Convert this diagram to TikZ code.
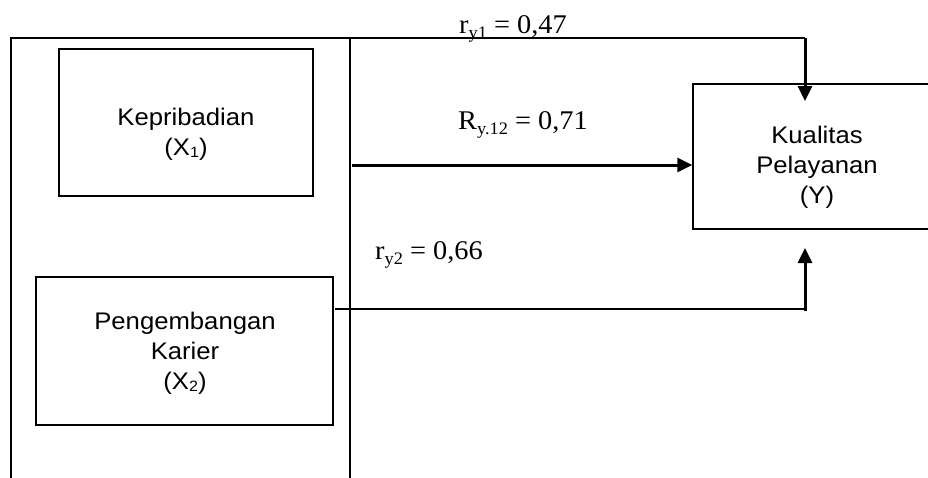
\documentclass[tikz,border=0pt]{standalone}
\usepackage{fontspec}
\setmainfont{Liberation Serif}
\newfontfamily\arialfont{Liberation Sans}
\usetikzlibrary{arrows.meta}

% widened text and subscripts in the two faces
\newcommand\wide[2]{\scalebox{#1}[1]{#2}}
\newcommand\asub[1]{\raisebox{-0.1em}{\fontsize{15}{15}\selectfont #1}}
\newcommand\tsub[1]{\raisebox{-0.22em}{\fontsize{17.5}{17.5}\selectfont #1}}
\newcommand\boxtext[1]{\wide{1.07}{\arialfont\fontsize{24}{30}\selectfont
  \setlength\tabcolsep{0pt}\begin{tabular}{c}#1\end{tabular}}}
\newcommand\coef[1]{\wide{1.05}{\fontsize{27}{30}\selectfont #1}}

\tikzset{
  varbox/.style={draw, line width=1.4pt, rectangle, inner sep=0pt},
  thinline/.style={line width=1.3pt},
  bold arrow/.style={line width=3pt, -{Triangle[length=15pt,width=14pt]}},
  bold line/.style={line width=3pt},
}

\begin{document}
\begin{tikzpicture}[x=1pt,y=-1pt]
\useasboundingbox (0,0) rectangle (928,477);
\clip (0,0) rectangle (928,477);

% open frame around both independent variables
\coordinate (fbl) at (11,480);
\coordinate (ftl) at (11,38);
\coordinate (ftr) at (350,38);
\coordinate (fbr) at (350,480);
\draw[thinline] (fbl) -- (ftl) -- (ftr) -- (fbr);

% variable boxes
\node[varbox, minimum width=254pt, minimum height=147pt] (x1) at (186,122.5) {};
\node[varbox, minimum width=297pt, minimum height=148pt] (x2) at (184.5,351) {};
\node[varbox, minimum width=247pt, minimum height=145pt] (y) at (816.5,156.5) {};

\node[inner sep=0pt] (x1t) at (186,134) {\boxtext{Kepribadian\\(X\asub{1})}};
\node[inner sep=0pt] (x2t) at (185,353) {\boxtext{Pengembangan\\Karier\\(X\asub{2})}};
\node[inner sep=0pt] (yt) at (817,167) {\boxtext{Kualitas\\Pelayanan\\(Y)}};

% coefficient labels
\node[anchor=base, inner sep=0pt] (l1) at (513,33) {\coef{r\tsub{y1} = 0,47}};
\node[anchor=base, inner sep=0pt] (l12) at (523,129) {\coef{R\tsub{y.12} = 0,71}};
\node[anchor=base, inner sep=0pt] (l2) at (429,259) {\coef{r\tsub{y2} = 0,66}};

% r_y1 path
\coordinate (c1) at (805,38);
\coordinate (ytip) at (805,101);
\draw[thinline] (ftr) -- (c1);
\draw[bold arrow] (c1) -- (ytip);

% joint path
\coordinate (rs) at (352,165);
\draw[bold arrow] (rs) -- (y.west |- rs);

% r_y2 path
\coordinate (c2s) at (335,309);
\coordinate (c2) at (805,309);
\coordinate (c2b) at (805,311);
\coordinate (ybot) at (805,248);
\draw[thinline] (c2s) -- (c2);
\draw[bold arrow] (c2b) -- (ybot);
\end{tikzpicture}
\end{document}
